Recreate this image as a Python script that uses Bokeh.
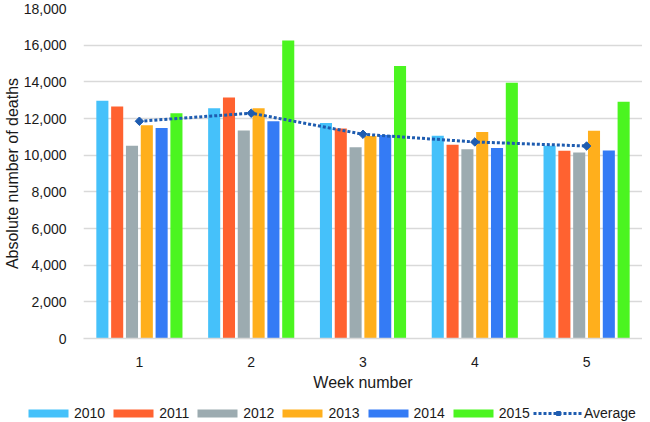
import math
from bokeh.plotting import figure
from bokeh.layouts import column
from bokeh.models import ColumnDataSource, Range1d, FixedTicker, NumeralTickFormatter, Legend, LegendItem
from bokeh.transform import dodge
from bokeh.embed import file_html
from bokeh.resources import INLINE

weeks = [1, 2, 3, 4, 5]
years = ["2010", "2011", "2012", "2013", "2014", "2015"]
deaths_2010 = [12970, 12560, 11750, 11060, 10520]
deaths_2011 = [12650, 13140, 11460, 10570, 10240]
deaths_2012 = [10520, 11350, 10430, 10320, 10140]
deaths_2013 = [11630, 12560, 11040, 11260, 11330]
deaths_2014 = [11480, 11850, 11100, 10390, 10260]
deaths_2015 = [12280, 16250, 14870, 13950, 12920]
average = [11850, 12290, 11140, 10720, 10500]
y_ticks = [0, 2000, 4000, 6000, 8000, 10000, 12000, 14000, 16000, 18000]

colors = ["#45C1FA", "#FF6230", "#9CABB0", "#FFAF1C", "#347BF5", "#4BF520"]
avg_color = "#1E5CB0"
FONT = "Liberation Sans"
TXT = "#1a1a1a"

src = ColumnDataSource(dict(
    week=weeks,
    y2010=deaths_2010, y2011=deaths_2011, y2012=deaths_2012,
    y2013=deaths_2013, y2014=deaths_2014, y2015=deaths_2015,
    avg=average,
))
cols = ["y2010", "y2011", "y2012", "y2013", "y2014", "y2015"]

p = figure(width=642, height=402, x_range=Range1d(0.5, 5.5), y_range=Range1d(0, 18000),
           output_backend="svg", toolbar_location=None,
           min_border_left=74, min_border_right=0, min_border_top=8, min_border_bottom=64)
p.frame_align = False
p.outline_line_color = None
p.background_fill_color = "white"
p.border_fill_color = "white"

p.xgrid.visible = False
p.ygrid.grid_line_color = "#d9d9d9"
p.ygrid.grid_line_width = 1.3

p.xaxis.ticker = FixedTicker(ticks=weeks)
p.yaxis.ticker = FixedTicker(ticks=y_ticks)
p.yaxis.formatter = NumeralTickFormatter(format="0,0")

for ax in (p.xaxis[0], p.yaxis[0]):
    ax.major_tick_line_color = None
    ax.minor_tick_line_color = None
    ax.major_label_text_font = FONT
    ax.major_label_text_font_size = "14px"
    ax.major_label_text_color = TXT
    ax.axis_label_text_font = FONT
    ax.axis_label_text_font_size = "16px"
    ax.axis_label_text_font_style = "normal"
    ax.axis_label_text_color = TXT

p.yaxis.axis_line_color = None
p.xaxis.axis_line_color = "#d9d9d9"
p.xaxis.axis_line_width = 1.3
p.yaxis.major_label_standoff = 11
p.yaxis.axis_label = "Absolute number of deaths"
p.yaxis.axis_label_standoff = 0
p.xaxis.major_label_standoff = 12
p.xaxis.axis_label = "Week number"
p.xaxis.axis_label_standoff = 4

pitch = 0.1325
bar_w = 0.108


def draw(fig):
    rs = []
    for i, (c, col) in enumerate(zip(colors, cols)):
        rs.append(fig.vbar(x=dodge("week", (i - 2.5) * pitch), top=col, width=bar_w, bottom=0,
                           source=src, fill_color=c, line_color=None))
    ln = fig.line("week", "avg", source=src, line_color=avg_color, line_width=3, line_dash="3 2")
    sc = fig.scatter("week", "avg", source=src, marker="square", angle=math.pi / 4, size=6,
                     fill_color=avg_color, line_color=avg_color)
    return rs, ln, sc


draw(p)

# legend strip beneath the chart; its view is far away from the data, so only the legend shows
lf = figure(width=642, height=20, x_range=Range1d(1000, 1001), y_range=Range1d(1e6, 1e6 + 1),
            output_backend="svg", toolbar_location=None,
            x_axis_location=None, y_axis_location=None,
            min_border_left=0, min_border_right=0, min_border_top=0, min_border_bottom=0)
lf.frame_align = False
lf.outline_line_color = None
lf.xgrid.visible = False
lf.ygrid.visible = False
rs, ln, sc = draw(lf)
items = [LegendItem(label=yr, renderers=[r]) for yr, r in zip(years, rs)]
items.append(LegendItem(label="Average", renderers=[ln, sc]))

legend = Legend(items=items, location=(23, 1), orientation="horizontal",
                glyph_width=50, glyph_height=10, label_standoff=1, spacing=3,
                padding=0, margin=0, border_line_color=None, background_fill_alpha=0,
                label_text_font=FONT, label_text_font_size="14px", label_text_color=TXT)
lf.add_layout(legend)

layout = column(p, lf, spacing=0)
open("out.html", "w").write(file_html(layout, INLINE))
